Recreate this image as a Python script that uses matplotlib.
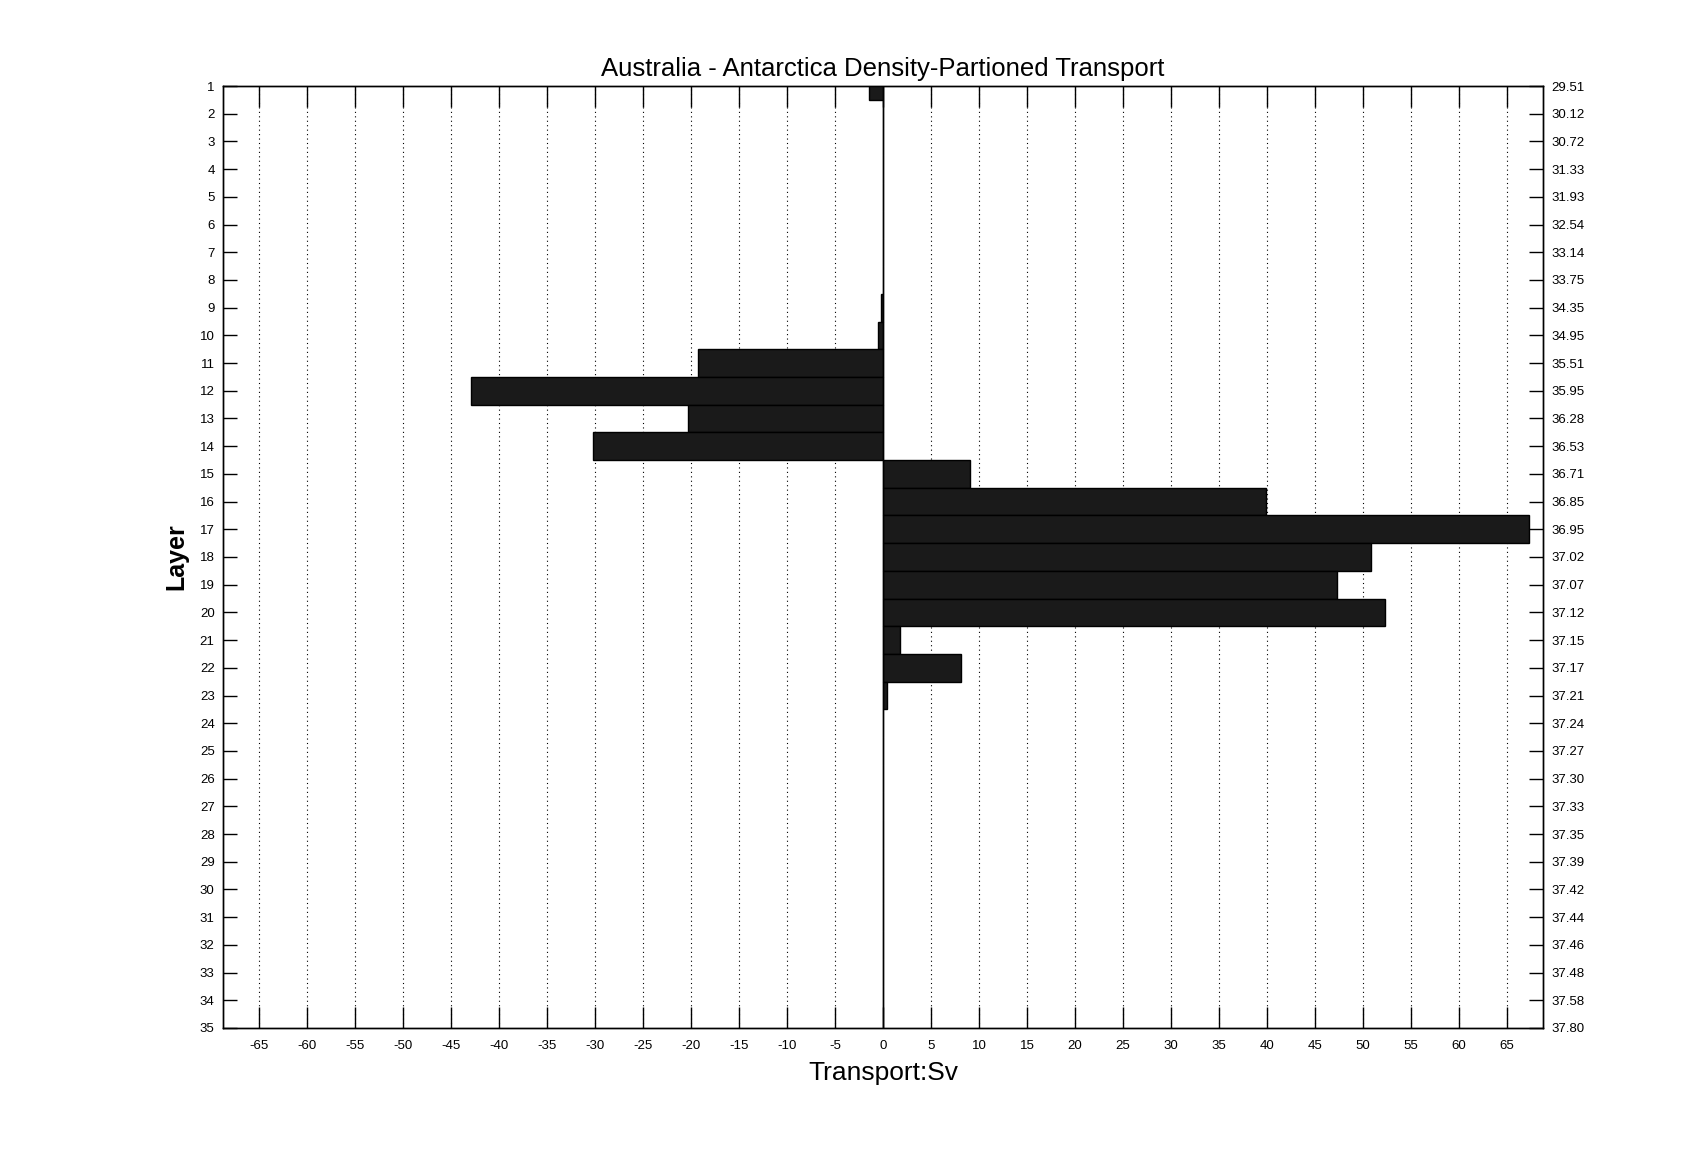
"""
Transporte por capas de densidad, seccion Australia - Antartida.
"""
import numpy as np
import matplotlib
matplotlib.use("Agg")
import matplotlib.pyplot as plt

# Capas y transporte (Sv)
layers = list(range(1, 36))
transport = [
    -1.5, 0, 0, 0, 0, 0, 0, 0, -0.24, -0.57,
    -19.3, -42.9, -20.3, -30.2, 9.1, 39.9, 67.3, 50.9, 47.3, 52.3,
    1.8, 8.1, 0.4, 0, 0, 0, 0, 0, 0, 0,
    0, 0, 0, 0, 0,
]
density_labels = [
    "29.51", "30.12", "30.72", "31.33", "31.93", "32.54", "33.14", "33.75",
    "34.35", "34.95", "35.51", "35.95", "36.28", "36.53", "36.71", "36.85",
    "36.95", "37.02", "37.07", "37.12", "37.15", "37.17", "37.21", "37.24",
    "37.27", "37.30", "37.33", "37.35", "37.39", "37.42", "37.44", "37.46",
    "37.48", "37.58", "37.80",
]
xticks = list(range(-65, 70, 5))

plt.rcParams["font.family"] = ["Liberation Sans", "DejaVu Sans"]

fig = plt.figure(figsize=(17.07, 11.55), dpi=100)
ax = fig.add_axes([0.1306, 0.11, 0.904 - 0.1306, 0.9255 - 0.11])

ax.barh(layers, transport, height=1.0, color="#1a1a1a",
        edgecolor="black", linewidth=1.0, zorder=3)
ax.axvline(0, color="black", linewidth=1.0, zorder=4)

ax.set_xlim(-68.8, 68.8)
ax.set_ylim(35, 1)

ax.set_xticks(xticks)
ax.set_xticklabels([str(v) for v in xticks], fontsize=9.5)
ax.set_yticks(layers)
ax.set_yticklabels([str(v) for v in layers], fontsize=9.5)
ax.tick_params(axis="x", direction="in", length=15, width=1, top=True, pad=9)
ax.tick_params(axis="y", direction="in", length=10, width=1, pad=6)

# rejilla punteada vertical
for x in xticks:
    if x != 0:
        ax.axvline(x, color="black", linestyle=(0, (1, 3)), linewidth=0.8, zorder=1)

ax2 = ax.twinx()
ax2.set_ylim(35, 1)
ax2.set_yticks(layers)
ax2.set_yticklabels(density_labels, fontsize=9.5)
ax2.tick_params(axis="y", direction="in", length=10, width=1, pad=6)

for a in (ax, ax2):
    for s in a.spines.values():
        s.set_linewidth(1.0)

ax.set_title("Australia - Antarctica Density-Partioned Transport", fontsize=18.5, pad=7)
ax.set_xlabel("Transport:Sv", fontsize=19, labelpad=6)
ax.set_ylabel("Layer", fontsize=18, fontweight="bold", labelpad=8)

fig.savefig("out.png", dpi=100)
plt.close(fig)
